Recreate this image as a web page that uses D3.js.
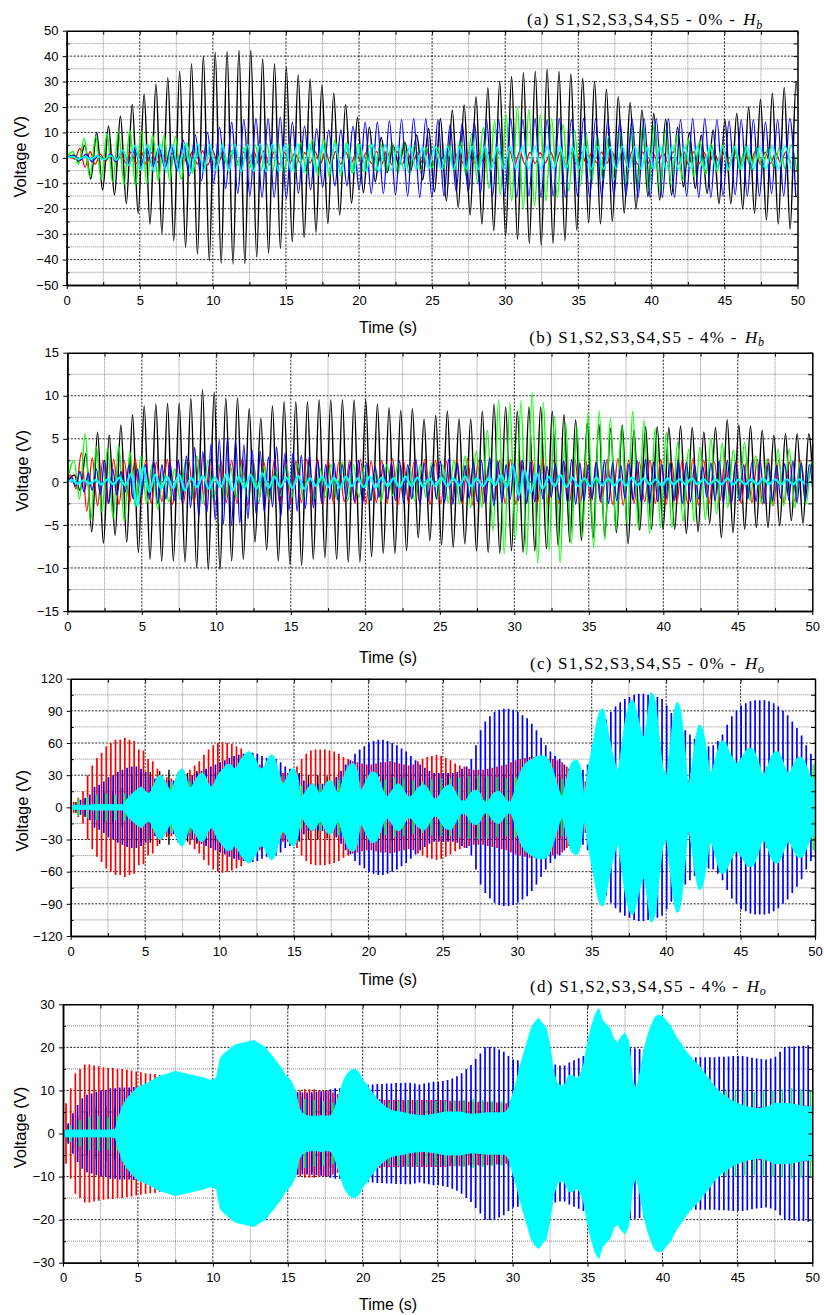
<!DOCTYPE html>
<html>
<head>
<meta charset="utf-8">
<script src="https://cdn.jsdelivr.net/npm/d3@7"></script>
<style>
  body { margin: 0; background: #fff; }
  svg { display: block; }
  .tick text { font-family: "Liberation Sans", Arial, sans-serif; font-size: 13px; fill: #000; }
</style>
</head>
<body>
<svg id="chart" width="824" height="1315"></svg>
<script>
// ---------------------------------------------------------------------------
// Shared axis values
// ---------------------------------------------------------------------------
const timeTicks = [0, 5, 10, 15, 20, 25, 30, 35, 40, 45, 50];
const timeMinorTicks = [2.5, 7.5, 12.5, 17.5, 22.5, 27.5, 32.5, 37.5, 42.5, 47.5];

const aVoltTicks = [-50, -40, -30, -20, -10, 0, 10, 20, 30, 40, 50];
const aVoltMinor = [-45, -35, -25, -15, -5, 5, 15, 25, 35, 45];
const bVoltTicks = [-15, -10, -5, 0, 5, 10, 15];
const bVoltMinor = [-12.5, -7.5, -2.5, 2.5, 7.5, 12.5];
const cVoltTicks = [-120, -90, -60, -30, 0, 30, 60, 90, 120];
const cVoltMinor = [-105, -75, -45, -15, 15, 45, 75, 105];
const dVoltTicks = [-30, -20, -10, 0, 10, 20, 30];
const dVoltMinor = [-25, -15, -5, 5, 15, 25];

const seriesNames = ["S1", "S2", "S3", "S4", "S5"];
const titleText = ["(a) S1,S2,S3,S4,S5 - 0% -", "(b) S1,S2,S3,S4,S5 - 4% -",
                   "(c) S1,S2,S3,S4,S5 - 0% -", "(d) S1,S2,S3,S4,S5 - 4% -"];
const titleSub = ["b", "b", "o", "o"];

// ---------------------------------------------------------------------------
// (a) 0% - Hb : peak values of each oscillation cycle (V)
//     start = time of the first maximum (s), period = cycle length (s)
// ---------------------------------------------------------------------------
const aBlackStart = 0.43, aBlackPeriod = 0.811;
const aBlackMax = [1,5,10,12.5,16.5,21,25,29,31.5,34, 37,40,41.5,41.8,42.3,42.3,39,37,35.5,32.6,
  31,28.6,25.4,21,16,12,8,5,6,9, 11.5,15.5,18.8,20.8,24,27.6,30,32,33.5,34,
  34.8,34,33,31.3,30,27,24,21.8,18.8,17.5, 15.3,12,10,9,11,15,17.5,20,23,25.4, 27.7,29.5];
const aBlackMin = [1.5,8.3,12.6,14.6,18,21.8,26,29.7,32.6,35.2, 37.8,40.4,41.5,41.7,41.5,39,37.5,35.6,33,31.3,
  29.3,25.8,22.5,17.9,13.7,9.4,5.8,3,5,8.7, 13.3,17,19.5,22.5,26,28.6,30.7,32,33.6,34.3,
  33.6,32.6,28.4,25.5,26,25,21.8,20.2,15.2,16.6, 14.6,11.4,12,14,18,18,20,21.8,24.4,26, 28,29];

const aRedStart = 0.2, aRedPeriod = 0.7;
const aRedAmp = [0.5,3.7,2.5,1.5,1.8,2,2.3,2.5,2,1.5, 1.8,2.2,2.5,2.8,2.6,2.2,2,2.3,2.6,2.8,
  2.5,2.2,1.8,2,2.4,2.7,2.5,2.1,1.9,2.2, 2.5,2.8,2.6,2.3,2,2.2,2.5,2.7,2.4,2.1,
  1.9,2.2,2.6,2.8,2.5,2.2,2,2.3,2.6,2.4, 2.1,1.9,2.2,2.5,2.8,2.6,2.3,2,2.2,2.5,
  2.7,2.4,2.1,1.9,2.2,2.6,2.8,2.5,2.2,2,2.3];

const aGreenStart = 0.42, aGreenPeriod = 0.78;
const aGreenAmp = [2.5,7.6,8.3,9.6,10.5,11,10.3,9,9,8.3, 6,4,2.5,2,3,4,5,5.7,6,5.5,
  6,7,7.5,7,6,5.5,5,5.5,6,6, 5,4,4,5,7,9.5,12,14.5,17,20,
  19,17,15.5,13,11,10,9,8.5,10,12, 13,13,11,9,7.5,6.5,5.5,5,4.5,4.5, 4,4,4.5,5];

const aBlueStart = 0.5, aBluePeriod = 0.83;
const aBlueAmp = [1,1.5,1,1.5,3,3,3.5,4,5,7, 9,10,12,14,15,15.5,15.5,16,14,12.5,
  11.5,11,11,12.5,14,14,14.5,15,15.5,15.5, 15,13,13.5,14,15,15,15.5,15,15.5,15,
  15.5,15,15.5,15.5,15,15,15.5,15.5,15.5,15.5, 15,15.5,15.5,15,14.5,15,15,14,15,15.5];

const aCyanStart = 0.4, aCyanPeriod = 0.855;
const aCyanAmp = [0.5,0.5,0.8,1,3,5,5.5,5.5,5.3,5.5, 5.5,5.3,5.5,5.5,5.3,5.5,5.5,5.3,5.5,5.5,
  5.3,5.5,5.5,5.3,5.5,5,4.5,4.5,4.3,4.5, 4.5,4.3,4.5,4.5,4.3,4.5,4.5,4.3,4.5,4.5,
  4.3,4.5,4.5,4.3,4.5,4.5,4.3,4.5,4.5,4.3, 4.5,4.5,4.3,4.5,4.5,4.3,4.5,4.5];

// ---------------------------------------------------------------------------
// (b) 4% - Hb
// ---------------------------------------------------------------------------
const bBlackStart = 0.4675, bBlackPeriod = 0.7825;
const bBlackMax = [0.8,3.3,5.75,5.4,6.6,7.8,8.8,9,9.1,9.1, 9.7,10.7,10.4,9.7,9.7,8.5,7.4,8.8,9.3,9.3,
  9.3,9.5,9.5,9.5,9.5,9.5,9,8.6,8.3,8.5, 7.3,7.7,8.2,7.3,7.3,8.2,9,8.7,8.2,8.7,
  8.7,8.2,7.8,7.2,6.8,6.7,6.2,6.6,6,6.4, 6.4,6.3,6.5,6.3,5.8,6.3,7.2,6.6,6.5,6, 5.4,5.6,5.6,5.6];
const bBlackMin = [1,5.8,7.1,6.2,7,8.2,9,9.2,9.2,9.3, 10,10.2,10.2,9.2,9,7,7.9,9.2,9.6,9.7,
  9,8.8,9,9.3,9.3,8.7,8.3,8.3,8,6.5, 6.8,7.3,7.6,7.2,8,8.2,8.3,8,8.2,8,
  7.8,7.4,7,6.8,6.5,6.3,5.9,7.2,5.6,5.5, 5.5,5.5,6,5.8,4.8,6.5,5.9,5.5,5.3,5.3, 5.1,4.5,4.8,4.8];

const bRedStart = 0.23, bRedPeriod = 0.72;
const bRedAmp = [0.8,3.4,2.8,2.5,2.6,2.4,2.7,2.5,2.3,2.6, 2.5,2.4,2.7,2.6,2.4,2.5,2.7,2.5,2.3,2.6,
  2.5,2.4,2.6,2.7,2.5,2.3,2.5,2.6,2.4,2.5, 2.7,2.5,2.3,2.6,2.5,2.4,2.6,2.7,2.5,2.3,
  2.5,2.6,2.4,2.5,2.7,2.5,2.3,2.6,2.5,2.4, 2.6,2.7,2.5,2.3,2.5,2.6,2.4,2.5,2.7,2.5,
  2.3,2.6,2.5,2.4,2.6,2.7,2.5,2.3,2.5];

const bGreenStart = 0.45, bGreenPeriod = 0.75;
const bGreenMax = [2.5,5.6,4.1,3.9,4.3,3.5,3,2,1.2,1.5, 2.5,3,2.5,2,1.8,2,2.2,1.8,1.5,2,
  2.2,1.8,1.6,2,2.3,2,1.8,1.5,2,2.2, 1.8,2,2.2,2,2.5,3,
  3.6,6,9.5,9.2,9.4,10.4,9.2,7.6,6.9,6.5, 8,8.2,7.4,6.5,8.2,7.2,6.2,5.7,4.6,3.8,
  4,5,4.5,3.7,4.6,3,2.6,3.8,3.8,2.3, 2.3];
const bGreenMin = [2,4.5,3.5,4.3,4.6,2.9,2.5,3.2,2.3,2, 2.2,2.5,2.2,2,1.8,2,2.4,2,1.6,1.8,
  2,2.2,1.8,2,2.2,1.8,2,2.2,1.6,2, 2.2,1.8,2,2.4,2.6,3,
  3,5.7,8.4,6.7,8.5,9.5,8,9.4,7.2,6.4, 7.7,6.8,5.6,5,5.5,6,5.3,5.3,4.6,4.6,
  4.4,3.7,3,2.2,2.2,2.5,2.8,2.8,3,2.6, 2];

const bBlueStart = 0.3, bBluePeriod = 0.55;
const bBlueAmp = [0.5,1.2,1,1.5,2.5,1.5,1.2,2,1.5,2, 2.5,2,2.2,2.5,3,4,3.5,4.4,4.9,5.1,
  4.8,4.3,3.7,3.5,2.9,4.1,3.3,3.4,3.1,3, 2.5,2,2.2,2,2.3,2.5,2.2,1.8,2,2.2,
  2.4,2,2.6,2.2,2,2.4,2.6,2.2,1.9,2.3, 2.5,2.8,2.4,2,2.2,2.5,2.3,2,1.8,2.1,
  2.4,2.6,2.2,2,2.3,2.5,2.2,1.9,2.1,2.4, 2.6,2.3,2,2.2,2.5,2.3,2,1.8,2.2,2.4,
  2.5,2.2,2,2.3,2.5,2.2,1.9,2.1,2.4,2.2, 2];

const bCyanStart = 0.3, bCyanPeriod = 0.8;
const bCyanMax = [0.2,0.2,0.2,0.3,0.5,1,1.8,0.8,0.6,0.8, 0.5,0.7,0.5,0.9,0.6,0.8,1,0.6,0.5,0.7,
  0.4,0.6,0.5,0.6,0.4,0.6,0.5,0.4,0.6,0.5, 0.4,0.5,0.4,0.6,0.4,0.5,0.8,1.9,1.4,1,
  0.6,0.8,0.5,0.4,0.5,0.4,0.3,0.5,0.4,0.3, 0.4,0.3,0.4,0.3,0.3,0.4,0.3,0.3,0.4,0.3, 0.3,0.3];
const bCyanMin = [0.2,0.2,0.3,0.3,0.4,2.8,1.2,0.8,0.7,1, 0.6,0.8,0.6,1,0.7,0.8,0.7,0.6,0.7,0.8,
  0.5,0.6,0.7,0.5,0.6,0.7,0.5,0.6,0.5,0.6, 0.5,0.5,0.4,0.5,0.5,0.4,0.6,1.6,1.3,0.8,
  0.5,0.6,0.5,0.5,0.4,0.4,0.4,0.4,0.3,0.4, 0.3,0.3,0.3,0.3,0.3,0.3,0.3,0.3,0.3,0.3, 0.3,0.3];

// ---------------------------------------------------------------------------
// (c) 0% - Ho and (d) 4% - Ho : spike amplitudes (V), one per spike
// ---------------------------------------------------------------------------
const spikeStart = 0.2, spikeStep = 0.3125;
const sparseBlackStart = 0.35, sparseGreenStart = 0.5, sparseStep = 0.625;
const bandStep = 0.25;   // envelope sampling of the S5 record (s)

const cRedSpikes = [
  5,9,15,30,39,46,51,57,60,63,63,65,63,62,54,53,
  45,43,36,30,28,27,27,29,31,35,39,43,49,54,58,60,
  61,60,59,57,55,50,45,42,40,38,36,34,33,32,32,33,
  38,45,50,53,54,54,54,53,52,50,47,45,43,42,41,40,
  40,41,42,42,43,42,41,40,39,40,43,45,47,48,49,48,
  46,44,41,39,38,36,35,35,35,36,37,38,39,40,42,44,
  45,46,47,47,46,46,45,45,44,42,38,30,26,25,24,24,
  24,25,26,26,27,28,28,28,27,27,26,26,27,28,28,27,
  26,26,25,25,26,27,27,28,28,27,26,26,25,25,26,26,
  27,28,28,27,27,26,26,25,25,26,27,28,28,27,26,25];
const cBlueSpikes = [
  3,7,9,12,19,21,24,28,30,33,35,37,38,38,36,33,
  29,27,26,25,25,25,25,25,27,30,32,34,36,38,40,42,
  44,46,48,49,50,51,51,50,48,46,46,45,42,38,36,35,
  30,25,22,22,22,22,22,24,28,34,40,44,50,54,57,60,
  62,63,63,62,60,58,55,52,48,44,40,37,34,32,32,32,
  32,32,33,36,38,45,58,72,80,85,89,91,92,92,91,89,
  86,83,78,72,65,58,52,48,45,40,36,35,35,35,40,52,
  62,72,82,89,94,98,101,103,105,106,106,105,104,103,101,95,
  88,82,76,72,68,64,60,58,57,58,62,68,77,85,90,95,
  97,99,100,100,100,99,97,94,90,86,80,74,67,58,50,42];
const cBlackSpikes = [5,8,12,14,15,18,
  30,32,33,34,35,33,32,34,35,33,32,30,31,33,35,36,34,33,32,30,
  30,29,28,30,31,30,29,30,31,30,28,
  27,28,29,30,29,28,27,28,29,30,30,29,28,27,28,29,
  30,31,32,30,29,28,30,31,32,31,30,29,28,30,31,32,30,29,28,29,30,31,32,30,29,28,29];
const cGreenSpikes = [8,10,12,13,12,13,11,12,
  20,22,24,25,24,22,21,23,25,24,22,20,21,23,24,22,20,21,
  22,24,26,28,27,25,24,26,28,27,25,24,26,27,
  27,28,29,30,29,28,27,28,29,30,29,28,27,29,30,31,
  32,34,35,33,31,30,32,34,36,35,33,32,34,36,37,35,34,36,38,37,36,38,39,40];
const cCyanBand = [
  1,2,2,2,2,2,2.5,2.5,2.5,2.5,2.5,2.5,2.5,2.5,2.5,7,11,14,17,19,
  15,13,18,26,30,27,20,16,24,33,36,28,18,22,28,32,30,22,19,26,
  32,36,40,40,36,40,46,50,52,48,42,36,38,45,49,44,32,22,27,34,
  36,28,10,14,19,22,18,13,18,24,25,18,13,24,34,40,41,34,16,22,
  29,33,32,25,15,10,14,19,22,19,13,10,12,17,20,21,17,11,8,11,
  17,20,21,17,10,6,6,11,15,16,13,6,5,10,14,15,12,7,5,12,
  24,34,40,43,45,47,48,48,46,40,30,18,10,22,36,43,44,36,13,35,
  53,72,88,92,78,60,45,35,55,80,95,100,90,75,66,85,107,100,70,40,
  30,55,85,98,88,55,22,40,65,77,70,50,32,42,55,62,60,52,45,41,
  45,50,55,55,50,40,31,35,45,51,52,46,37,32,38,45,47,44,36,28,
  25];

const dRedSpikes = [
  7,10.5,14,15,16,16,15.8,15.6,15.4,15.2,15.2,15,15,14.8,14.6,14.4,
  14.2,14,13.9,13.8,13.6,13.4,13.3,13.2,13,12.8,12.6,12.4,12.3,12.2,12,12,
  11.8,11,10,9.5,9,9,9,9,9,9,9,9,9,9,9,9,
  9.5,10,10,10.3,10.3,10.3,10,10,10,9.5,9.2,9,8.8,8.6,8.4,8.2,
  8,8,8,8,7.8,7.8,7.8,7.8,7.8,7.8,7.8,7.8,7.8,7.8,7.8,7.8,
  7.8,7.8,7.6,7.6,7.6,7.6,7.4,7.4,7.4,7.4,7.4,7.2,7.2,7.2,7,7,
  6.8,6.6,6.5,6.4,6.2,6,6,5.8,5.8,5.6,5.6,5.5,5.5,5.4,5.4,5.3,
  5.3,5.2,5.2,5.1,5,5,5,5,5,5,5,5,5,5,5,5,
  5,5,5,5,5.2,5.2,5.2,5.4,5.4,5.4,5.6,5.6,5.6,5.8,5.8,5.8,
  6,6,6,6,6.2,6.2,6.2,6.2,6.4,6.4,6.4,6.4,6.5,6.5,6.5,6.5];
const dBlueSpikes = [
  2.4,4.7,6.6,8.2,9,9.3,9.7,10,10.1,10.5,10.5,10.7,10.7,10.7,10.8,10.8,
  10.8,10.8,10.9,10.9,11,11,11,11,11,11,11.1,11.1,11.2,11.2,11.3,11.3,
  11.3,11,10.8,10.5,10.3,10,10,10,10,10,10,10,10,9.8,9.7,9.7,
  9.7,9.6,9.5,9.5,9.6,9.7,9.8,10,10.3,10.5,10.5,10.6,10.7,10.8,11,11.2,
  11.3,11.4,11.5,11.5,11.6,11.6,11.7,11.7,11.8,11.8,11.6,11.4,11.6,11.8,12,12,
  12.2,12.4,12.8,13.3,14,15,15.9,17.3,18.6,20,20.1,20,19.5,19,18,17.2,
  17,16.8,16.6,16.4,16.2,16,16,16,16,15.8,15.8,16.5,17,17.5,18,18,
  18,18.2,18.5,18.8,19,19.4,19.6,19.8,19.8,19.8,19.6,19.5,19.2,19,18.8,18.6,
  18.4,18.2,18,17.8,17.7,17.7,17.7,17.7,17.7,17.7,17.7,17.8,17.8,17.9,18,18,
  18,17.8,17.6,17.4,17.3,17.2,17.4,17.8,19,20,20.2,20.2,20.3,20.3,20.5,21.5];
const dBlackSpikes = [2,4,5,6,6.5,6,5.5,6,6.5,7,6.5,6,6.5,7,7,6.5,
  7,7,7.5,7.5,7,7,7.5,8,
  8,8.5,9,8.5,8,8.5,9,9.3,9,8.5,8,7.5,7.5,7.4,7.6,7.8,7.4,7.2,7.5,7.8,7.6,7.4,7.2,7.5,
  7,7.2,7,6.8,7,7.2,7,6.8,7,7.2,7,6.8,7,7.2,7,6.8,6.6,6.8,7,6.8,6.6,6.4,6.6,6.8,6.6,6.4,6.2,6.4,6.6,6.4,6.2,6.2];
const dGreenSpikes = [2,3,3.9,4,3.8,4,4.2,4.5,
  5,5,5.2,5.5,5.3,5,5.2,5.5,
  6,6.5,7,7.2,7.5,7.2,7,7.5,7.8,8,7.8,7.5,7.2,7.5,7.8,8,7.8,7.5,7.2,7.5,7.8,7.6,7.4,7.5,
  7.5,7.6,7.8,8,7.8,7.6,7.5,7.8,8,8.2,8,7.8,7.6,7.8,8,8.2,8.4,8.2,8,7.8,8,8.2,8.4,8.6,8.4,8.2,8.5,
  9,9.2,9.5,9.8,10,9.8,9.6,9.8,10,10.2,10.5,10.3,10];
const dCyanBand = [
  0.5,0.8,0.8,0.8,0.8,0.8,0.8,0.8,0.8,0.8,0.8,0.8,0.8,0.8,1,4,6.6,8,9,10,
  10.8,11.2,11.5,12,12.4,13,13.4,13.6,13.8,14.2,14.4,14.2,14,13.8,13.6,13.4,13.2,13,12.8,12.4,
  12.4,13,17.5,18.5,19.2,20,20.6,20.8,21,21.2,21.4,21.6,21,20.5,20,18.8,17.8,16.6,15.6,14,
  13,12,10,6,4.5,4.2,4,4,4,4.2,4,4,4.5,7,10,12.5,14,14.8,14.9,14.2,
  12.4,11.5,10.1,9,7.8,7,6.2,5.6,5.3,5.1,5,4.8,4.6,4.4,4.3,4.2,4.2,4.2,4.3,4.5,
  4.6,4.8,5,5,5,5,5,4.8,4.6,4.5,4.5,4.6,4.7,4.8,4.8,4.8,4.8,4.8,4.8,6,
  9,12,15.5,18.6,21.5,24.5,26,26.7,25.5,24.5,20,14,11.6,11,11.5,13.5,13.5,12.8,13.5,16,
  21,24.5,27.5,29,26.3,25.3,24.4,22,21,22.5,23.3,21.5,12.4,10.2,14,19,22.5,25,27,27.5,
  27.2,26.2,25.2,23.5,22,20.8,19.4,18.3,17.3,16.4,15.5,14.2,13.2,12,10.8,10,9.2,8.5,8,7.4,
  7,6.7,6.3,6.1,6,5.8,5.8,6,6.2,6.6,7,7,7,7,6.9,6.8,6.6,6.4,6.2,6.2,
  6.2];

// ---------------------------------------------------------------------------
// Styling and layout
// ---------------------------------------------------------------------------
const colors = { S1: "#000000", S2: "#ff0000", S3: "#00ff00", S4: "#0000ff", S5: "#00ffff" };
const sans = '"Liberation Sans", Arial, sans-serif';
const serif = '"Liberation Serif", "Times New Roman", serif';

const svg = d3.select("#chart");
svg.append("rect").attr("width", 824).attr("height", 1315).attr("fill", "#fff");

const layouts = [
  { key: "a", l: 66.7, r: 797.5, t: 30.7, b: 285, yDomain: [-50, 50], yTicks: aVoltTicks, yMinor: aVoltMinor,
    titleX: 527, titleY: 25, titleLen: 208, hX: 743.3, yLabelX: 19.5, yLabelY: 156.7, xLabelY: 333 },
  { key: "b", l: 67.3, r: 812.3, t: 352.7, b: 611, yDomain: [-15, 15], yTicks: bVoltTicks, yMinor: bVoltMinor,
    titleX: 529.3, titleY: 342.7, titleLen: 207, hX: 745, yLabelX: 21.5, yLabelY: 470.8, xLabelY: 663 },
  { key: "c", l: 70.7, r: 815, t: 678.7, b: 936, yDomain: [-120, 120], yTicks: cVoltTicks, yMinor: cVoltMinor,
    titleX: 530, titleY: 669.3, titleLen: 206, hX: 745, yLabelX: 22, yLabelY: 810.8, xLabelY: 985 },
  { key: "d", l: 63, r: 812.3, t: 1004.3, b: 1262.7, yDomain: [-30, 30], yTicks: dVoltTicks, yMinor: dVoltMinor,
    titleX: 530, titleY: 991.7, titleLen: 208, hX: 746.7, yLabelX: 19.7, yLabelY: 1127.5, xLabelY: 1310 }
];

// ---------------------------------------------------------------------------
// Path builders
// ---------------------------------------------------------------------------
// Oscillation through successive maxima and minima
function wavePath(x, y, start, period, maxs, mins) {
  const pts = [[0, 0]];
  maxs.forEach((m, k) => {
    pts.push([start + k * period, m]);
    pts.push([start + (k + 0.5) * period, -(mins ? mins[k] : m)]);
  });
  return d3.line().x(d => x(d[0])).y(d => y(d[1])).curve(d3.curveMonotoneX)(pts);
}
// Narrow full-swing spikes
function spikePath(x, y, start, step, amps) {
  const pts = amps.flatMap((a, k) => {
    const t = start + k * step;
    return [[t, a], [t, -a], null];
  });
  return d3.line().defined(d => d !== null).x(d => x(d[0])).y(d => y(d[1]))(pts);
}
// Dense record drawn as its swing envelope
function bandPath(x, y, step, amps, curve) {
  return d3.area().x((d, i) => x(i * step)).y0(d => y(-d)).y1(d => y(d)).curve(curve)(amps);
}

// ---------------------------------------------------------------------------
// Frame, grid, axes and labels of one panel
// ---------------------------------------------------------------------------
function drawFrame(L, idx) {
  const x = d3.scaleLinear().domain([0, 50]).range([L.l, L.r]);
  const y = d3.scaleLinear().domain(L.yDomain).range([L.b, L.t]);
  const g = svg.append("g").attr("class", "panel-" + L.key);

  const grid = g.append("g");
  // minor grid
  grid.selectAll(".gxm").data(timeMinorTicks).join("line")
    .attr("x1", d => x(d)).attr("x2", d => x(d)).attr("y1", L.t).attr("y2", L.b)
    .attr("stroke", "#8a8a8a").attr("stroke-width", 1).attr("stroke-dasharray", "1,1");
  grid.selectAll(".gym").data(L.yMinor).join("line")
    .attr("x1", L.l).attr("x2", L.r).attr("y1", d => y(d)).attr("y2", d => y(d))
    .attr("stroke", "#8a8a8a").attr("stroke-width", 1).attr("stroke-dasharray", "1,1");
  // major grid
  grid.selectAll(".gx").data(timeTicks.slice(1, -1)).join("line")
    .attr("x1", d => x(d)).attr("x2", d => x(d)).attr("y1", L.t).attr("y2", L.b)
    .attr("stroke", "#222").attr("stroke-width", 1).attr("stroke-dasharray", "2,1.5");
  grid.selectAll(".gy").data(L.yTicks.slice(1, -1)).join("line")
    .attr("x1", L.l).attr("x2", L.r).attr("y1", d => y(d)).attr("y2", d => y(d))
    .attr("stroke", "#222").attr("stroke-width", 1).attr("stroke-dasharray", "2,1.5");

  const clipId = "clip-" + L.key;
  svg.append("clipPath").attr("id", clipId).append("rect")
    .attr("x", L.l).attr("y", L.t).attr("width", L.r - L.l).attr("height", L.b - L.t);
  const plot = g.append("g").attr("clip-path", `url(#${clipId})`);

  const axes = g.append("g");
  // bottom
  axes.append("g").attr("transform", `translate(0,${L.b})`)
    .call(d3.axisBottom(x).tickValues(timeTicks).tickSize(4).tickSizeOuter(0).tickPadding(6.5).tickFormat(d3.format("d")));
  axes.append("g").attr("transform", `translate(0,${L.b})`)
    .call(d3.axisBottom(x).tickValues(timeMinorTicks).tickSize(-3).tickSizeOuter(0).tickFormat(""));
  // left
  axes.append("g").attr("transform", `translate(${L.l},0)`)
    .call(d3.axisLeft(y).tickValues(L.yTicks).tickSize(4).tickSizeOuter(0).tickPadding(4.3).tickFormat(d3.format("d")));
  axes.append("g").attr("transform", `translate(${L.l},0)`)
    .call(d3.axisLeft(y).tickValues(L.yMinor).tickSize(-3).tickSizeOuter(0).tickFormat(""));
  // top and right, inward ticks only
  axes.append("g").attr("transform", `translate(0,${L.t})`)
    .call(d3.axisTop(x).tickValues(timeTicks.concat(timeMinorTicks)).tickSize(-4).tickSizeOuter(0).tickFormat(""));
  axes.append("g").attr("transform", `translate(${L.r},0)`)
    .call(d3.axisRight(y).tickValues(L.yTicks.concat(L.yMinor)).tickSize(-4).tickSizeOuter(0).tickFormat(""));
  axes.selectAll(".domain").attr("stroke", "#000").attr("stroke-width", 1.5);
  axes.selectAll(".tick line").attr("stroke", "#000").attr("stroke-width", 1);

  // axis titles
  g.append("text").attr("transform", `translate(${L.yLabelX},${L.yLabelY}) rotate(-90)`)
    .attr("text-anchor", "middle").attr("dominant-baseline", "central")
    .attr("font-family", sans).attr("font-size", 16.5).text("Voltage (V)");
  g.append("text").attr("x", 388).attr("y", L.xLabelY).attr("text-anchor", "middle")
    .attr("font-family", sans).attr("font-size", 16).text("Time (s)");

  // panel title
  g.append("text").attr("x", L.titleX).attr("y", L.titleY)
    .attr("font-family", serif).attr("font-size", 17)
    .attr("textLength", L.titleLen).attr("lengthAdjust", "spacing").text(titleText[idx]);
  g.append("text").attr("x", L.hX).attr("y", L.titleY)
    .attr("font-family", serif).attr("font-size", 17).attr("font-style", "italic").text("H");
  g.append("text").attr("x", L.hX + 13).attr("y", L.titleY + 3.5)
    .attr("font-family", serif).attr("font-size", 12).attr("font-style", "italic").text(titleSub[idx]);

  return { x, y, plot };
}

function addLine(P, d, color, width) {
  P.plot.append("path").attr("d", d).attr("fill", "none").attr("stroke", color)
    .attr("stroke-width", width).attr("stroke-linejoin", "round");
}

// ---------------------------------------------------------------------------
// (a)
// ---------------------------------------------------------------------------
{
  const P = drawFrame(layouts[0], 0);
  addLine(P, wavePath(P.x, P.y, aBlackStart, aBlackPeriod, aBlackMax, aBlackMin), colors.S1, 1.5);
  addLine(P, wavePath(P.x, P.y, aRedStart, aRedPeriod, aRedAmp), colors.S2, 1.3);
  addLine(P, wavePath(P.x, P.y, aGreenStart, aGreenPeriod, aGreenAmp), colors.S3, 1.4);
  addLine(P, wavePath(P.x, P.y, aBlueStart, aBluePeriod, aBlueAmp), colors.S4, 1.3);
  addLine(P, wavePath(P.x, P.y, aCyanStart, aCyanPeriod, aCyanAmp), colors.S5, 1.6);
}
// ---------------------------------------------------------------------------
// (b)
// ---------------------------------------------------------------------------
{
  const P = drawFrame(layouts[1], 1);
  addLine(P, wavePath(P.x, P.y, bBlackStart, bBlackPeriod, bBlackMax, bBlackMin), colors.S1, 1.5);
  addLine(P, wavePath(P.x, P.y, bRedStart, bRedPeriod, bRedAmp), colors.S2, 1.3);
  addLine(P, wavePath(P.x, P.y, bGreenStart, bGreenPeriod, bGreenMax, bGreenMin), colors.S3, 1.4);
  addLine(P, wavePath(P.x, P.y, bBlueStart, bBluePeriod, bBlueAmp), colors.S4, 1.3);
  addLine(P, wavePath(P.x, P.y, bCyanStart, bCyanPeriod, bCyanMax, bCyanMin), colors.S5, 2.2);
}
// ---------------------------------------------------------------------------
// (c)
// ---------------------------------------------------------------------------
{
  const P = drawFrame(layouts[2], 2);
  addLine(P, spikePath(P.x, P.y, sparseBlackStart, sparseStep, cBlackSpikes), colors.S1, 1.4);
  addLine(P, spikePath(P.x, P.y, spikeStart, spikeStep, cRedSpikes), colors.S2, 1.7);
  addLine(P, spikePath(P.x, P.y, sparseGreenStart, sparseStep, cGreenSpikes), colors.S3, 1.4);
  addLine(P, spikePath(P.x, P.y, spikeStart + 0.15, spikeStep, cBlueSpikes), colors.S4, 1.7);
  P.plot.append("path").attr("d", bandPath(P.x, P.y, bandStep, cCyanBand, d3.curveMonotoneX))
    .attr("fill", colors.S5).attr("stroke", colors.S5).attr("stroke-width", 1);
}
// ---------------------------------------------------------------------------
// (d)
// ---------------------------------------------------------------------------
{
  const P = drawFrame(layouts[3], 3);
  addLine(P, spikePath(P.x, P.y, sparseBlackStart, sparseStep, dBlackSpikes), colors.S1, 1.4);
  addLine(P, spikePath(P.x, P.y, spikeStart, spikeStep, dRedSpikes), colors.S2, 1.7);
  addLine(P, spikePath(P.x, P.y, sparseGreenStart, sparseStep, dGreenSpikes), colors.S3, 1.4);
  addLine(P, spikePath(P.x, P.y, spikeStart + 0.15, spikeStep, dBlueSpikes), colors.S4, 1.7);
  P.plot.append("path").attr("d", bandPath(P.x, P.y, bandStep, dCyanBand, d3.curveLinear))
    .attr("fill", colors.S5).attr("stroke", colors.S5).attr("stroke-width", 1);
}
</script>
</body>
</html>
